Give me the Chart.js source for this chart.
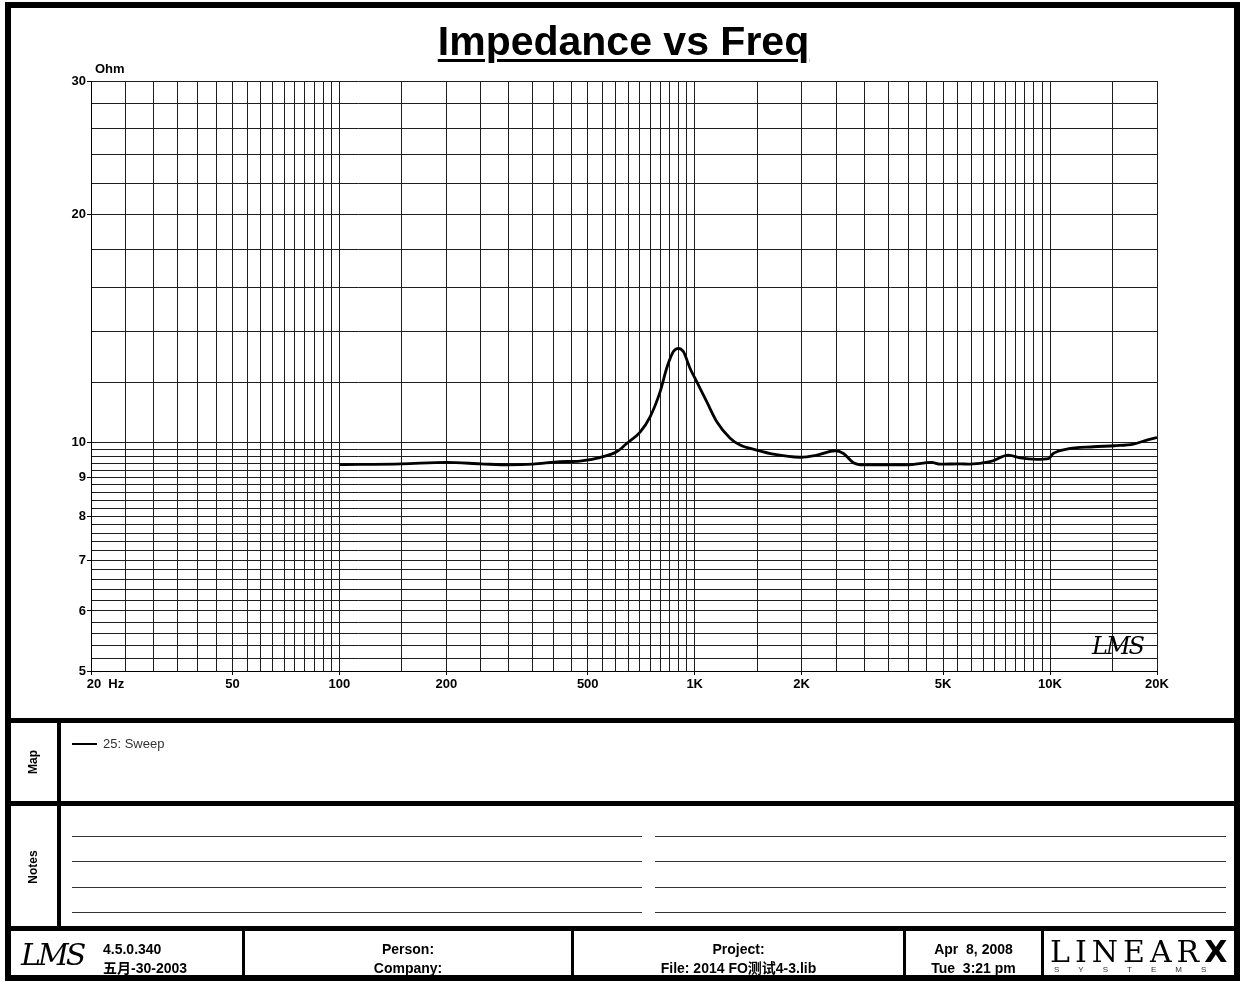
<!DOCTYPE html>
<html>
<head>
<meta charset="utf-8">
<title>Impedance vs Freq</title>
<script src="https://cdn.jsdelivr.net/npm/chart.js@4"></script>
<style>
  body { margin: 0; background: #fff; font-family: "Liberation Sans", Arial, sans-serif; color: #000; }
  #page { position: relative; width: 1241px; height: 982px; overflow: hidden; }
  #impChart { position: absolute; left: 0; top: 0; }
  .bar { position: absolute; background: #000; }
  .thin { position: absolute; background: #333; height: 1px; }
  .txt { position: absolute; white-space: nowrap; }
  .cell { position: absolute; text-align: center; font: bold 14px "Liberation Sans", Arial, sans-serif; line-height: 19px; }
  .vlabel { position: absolute; font: bold 12px "Liberation Sans", Arial, sans-serif; transform: translate(-50%, -50%) rotate(-90deg); white-space: nowrap; }
</style>
</head>
<body>
<div id="page">
  <canvas id="impChart" width="1241" height="712"></canvas>

  <div class="txt" style="left:3px;width:1241px;top:18px;text-align:center;font:bold 41px 'Liberation Sans',Arial,sans-serif;text-decoration:underline;text-decoration-thickness:3px;text-underline-offset:4px;">Impedance vs Freq</div>
  <div class="txt" style="left:95px;top:61px;font:bold 13px 'Liberation Sans',Arial,sans-serif;">Ohm</div>
  <div class="txt" style="left:1092px;top:632px;font:italic 24px 'DejaVu Serif',serif;letter-spacing:-2px;">LMS</div>

  <!-- frame -->
  <div style="position:absolute;left:5px;top:2px;width:1235px;height:979px;border:6px solid #000;box-sizing:border-box;"></div>
  <div class="bar" style="left:5px;top:718px;width:1235px;height:5px;"></div>
  <div class="bar" style="left:5px;top:801px;width:1235px;height:5px;"></div>
  <div class="bar" style="left:5px;top:926px;width:1235px;height:5px;"></div>
  <div class="bar" style="left:57px;top:720px;width:4px;height:208px;"></div>

  <!-- map -->
  <div class="vlabel" style="left:33px;top:762px;">Map</div>
  <div class="bar" style="left:72px;top:743px;width:25px;height:2px;"></div>
  <div class="txt" style="left:103px;top:736px;font:13px 'Liberation Sans',Arial,sans-serif;color:#333;">25: Sweep</div>

  <!-- notes -->
  <div class="vlabel" style="left:33px;top:867px;">Notes</div>
  <div class="thin" style="left:72px;top:836px;width:570px;"></div>
  <div class="thin" style="left:72px;top:861px;width:570px;"></div>
  <div class="thin" style="left:72px;top:887px;width:570px;"></div>
  <div class="thin" style="left:72px;top:912px;width:570px;"></div>
  <div class="thin" style="left:655px;top:836px;width:571px;"></div>
  <div class="thin" style="left:655px;top:861px;width:571px;"></div>
  <div class="thin" style="left:655px;top:887px;width:571px;"></div>
  <div class="thin" style="left:655px;top:912px;width:571px;"></div>

  <!-- footer -->
  <div class="bar" style="left:242px;top:928px;width:3px;height:50px;"></div>
  <div class="bar" style="left:571px;top:928px;width:3px;height:50px;"></div>
  <div class="bar" style="left:903px;top:928px;width:3px;height:50px;"></div>
  <div class="bar" style="left:1041px;top:928px;width:3px;height:50px;"></div>

  <div class="txt" style="left:21px;top:937px;font:italic 30px 'DejaVu Serif',serif;letter-spacing:-3px;">LMS</div>
  <div class="txt" style="left:103px;top:940px;font:bold 14px 'Liberation Sans','Noto Sans CJK SC',sans-serif;line-height:19px;">4.5.0.340<br>五月-30-2003</div>
  <div class="cell" style="left:245px;width:326px;top:940px;">Person:<br>Company:</div>
  <div class="cell" style="left:574px;width:329px;top:940px;font-family:'Liberation Sans','Noto Sans CJK SC',sans-serif;">Project:<br>File: 2014 FO测试4-3.lib</div>
  <div class="cell" style="left:906px;width:135px;top:940px;">Apr&nbsp; 8, 2008<br>Tue&nbsp; 3:21 pm</div>
  <div class="txt" style="left:1050px;top:934px;font:30px 'DejaVu Serif',serif;letter-spacing:5px;font-weight:200;">LINEAR<b style="font-family:'DejaVu Sans',sans-serif;font-weight:900;">X</b></div>
  <div class="txt" style="left:1054px;top:965px;font:8px 'Liberation Sans',sans-serif;letter-spacing:19px;color:#333;">SYSTEMS</div>
</div>

<script>
const freqHz = [100, 150, 200, 250, 300, 350, 418, 475, 541, 603, 644, 702, 749, 799, 834, 871, 900, 929, 970, 1014,
  1081, 1154, 1258, 1342, 1494, 1664, 1980, 2206, 2484, 2622, 2797, 2984, 3500, 3952, 4646, 4904, 5582, 5956, 6778,
  7636, 8238, 9177, 9900, 10218, 11143, 13245, 15200, 17166, 18713, 20000];
const impedanceOhm = [9.36, 9.38, 9.42, 9.38, 9.35, 9.37, 9.44, 9.46, 9.56, 9.73, 9.98, 10.33, 10.82, 11.67, 12.54, 13.19, 13.32, 13.19, 12.54, 12.03,
  11.33, 10.66, 10.14, 9.93, 9.78, 9.66, 9.57, 9.63, 9.76, 9.68, 9.41, 9.35, 9.35, 9.35, 9.42, 9.37, 9.38, 9.37, 9.44,
  9.63, 9.55, 9.51, 9.53, 9.68, 9.81, 9.88, 9.91, 9.96, 10.08, 10.16];

// Grid lines
const xGridHz = [20, 25, 30, 35, 40, 45, 50, 55, 60, 65, 70, 75, 80, 85, 90, 95, 100,
  150, 200, 250, 300, 350, 400, 450, 500, 550, 600, 650, 700, 750, 800, 850, 900, 950, 1000,
  1500, 2000, 2500, 3000, 3500, 4000, 4500, 5000, 5500, 6000, 6500, 7000, 7500, 8000, 8500, 9000, 9500, 10000,
  15000, 20000];
const yGridOhm = [5, 5.2, 5.4, 5.6, 5.8, 6, 6.2, 6.4, 6.6, 6.8, 7, 7.2, 7.4, 7.6, 7.8, 8, 8.2, 8.4, 8.6, 8.8,
  9, 9.2, 9.4, 9.6, 9.8, 10, 12, 14, 16, 18, 20, 22, 24, 26, 28, 30];

// Tick labels
const xLabelHz = [20, 50, 100, 200, 500, 1000, 2000, 5000, 10000, 20000];
const xLabels = ['        20  Hz', '50', '100', '200', '500', '1K', '2K', '5K', '10K', '20K'];
const yLabelOhm = [5, 6, 7, 8, 9, 10, 20, 30];
const yLabels = ['5', '6', '7', '8', '9', '10', '20', '30'];

function labelFor(value, values, labels) {
  const i = values.findIndex(v => Math.abs(v - value) < 1e-6);
  return i < 0 ? '' : labels[i];
}

const tickFont = { family: "'Liberation Sans', Arial, sans-serif", size: 13, weight: 'bold' };
const gridColor = '#1e1e1e';

const ctx = document.getElementById('impChart').getContext('2d');
new Chart(ctx, {
  type: 'line',
  data: {
    datasets: [{
      label: '25: Sweep',
      data: freqHz.map((f, i) => ({ x: f, y: impedanceOhm[i] })),
      borderColor: '#000',
      borderWidth: 2.8,
      pointRadius: 0,
      cubicInterpolationMode: 'monotone',
      fill: false
    }]
  },
  options: {
    responsive: false,
    animation: false,
    layout: { padding: { left: 0, top: 81, right: 84, bottom: 0 } },
    plugins: { legend: { display: false }, tooltip: { enabled: false } },
    scales: {
      x: {
        type: 'logarithmic',
        min: 20,
        max: 20000,
        afterBuildTicks: s => { s.ticks = xGridHz.map(v => ({ value: v })); },
        afterFit: s => { s.height = 41; },
        grid: {
          color: gridColor,
          lineWidth: 1,
          tickLength: 4,
          tickColor: c => labelFor(c.tick.value, xLabelHz, xLabels) ? '#000' : 'rgba(0,0,0,0)'
        },
        border: { color: '#000', width: 1 },
        ticks: {
          autoSkip: false,
          maxRotation: 0,
          padding: 2,
          color: '#000',
          font: tickFont,
          callback: v => labelFor(v, xLabelHz, xLabels)
        }
      },
      y: {
        type: 'logarithmic',
        min: 5,
        max: 30,
        afterBuildTicks: s => { s.ticks = yGridOhm.map(v => ({ value: v })); },
        afterFit: s => { s.width = 91; },
        grid: {
          color: gridColor,
          lineWidth: 1,
          tickLength: 4,
          tickColor: c => labelFor(c.tick.value, yLabelOhm, yLabels) ? '#000' : 'rgba(0,0,0,0)'
        },
        border: { color: '#000', width: 1 },
        ticks: {
          autoSkip: false,
          padding: 1,
          color: '#000',
          font: tickFont,
          callback: v => labelFor(v, yLabelOhm, yLabels)
        }
      }
    }
  }
});
</script>
</body>
</html>
